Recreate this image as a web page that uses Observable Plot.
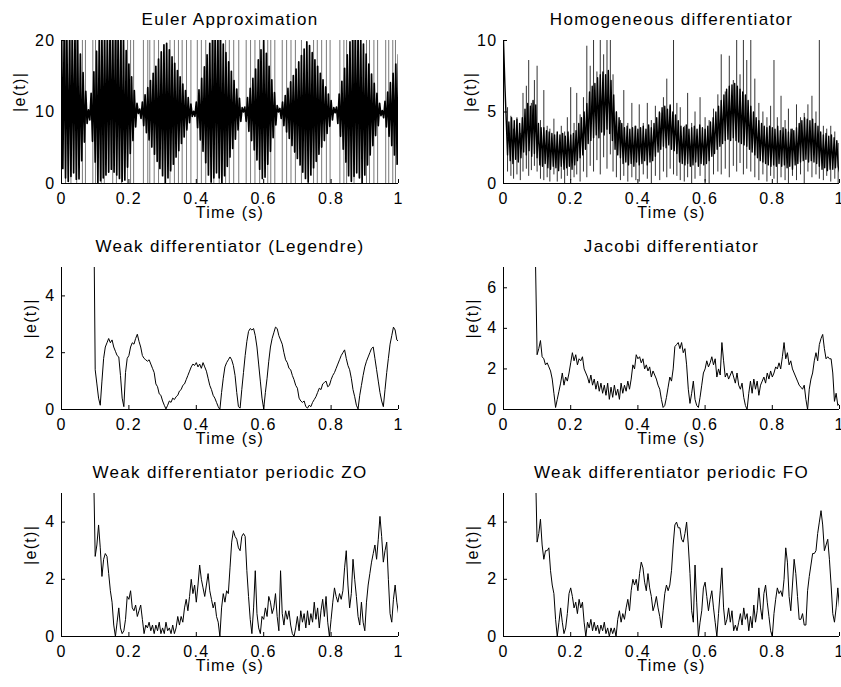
<!DOCTYPE html>
<html><head><meta charset="utf-8">
<script src="https://cdn.jsdelivr.net/npm/d3@7"></script>
<script src="https://cdn.jsdelivr.net/npm/@observablehq/plot@0.6"></script>
<style>
html,body{margin:0;padding:0;background:#fff;overflow:hidden}
#root{position:relative;width:841px;height:687px;background:#fff;overflow:hidden}
#root svg{position:absolute;overflow:visible}
#root svg text{letter-spacing:1.3px}
#root svg text.ttl{letter-spacing:1.8px}
</style></head><body><div id="root"></div>
<script>
// ---- data ----
const xTickValues = [0, 0.2, 0.4, 0.6, 0.8, 1];

// Euler approximation: samples every 0.004 s from t = 0
const eulerStart = 0, eulerStep = 0.004;
const eulerValues = [22.8,2.1,21.5,0.8,20.2,0.3,20.6,1.0,21.3,1.5,
 21.1,0.6,20.2,0.65,18.1,3.2,15.5,5.8,12.9,8.4,
 10.3,8.9,12.6,5.9,15.6,3.0,18.5,0.0,20.2,0.4,
 20.6,0.8,21,1.2,21.4,1.6,21.8,2.0,21.8,1.6,
 21.4,1.2,20.9,0.7,20.5,0.3,20.1,0.5,18.6,2.3,
 16.7,4.2,14.9,6.0,13.0,7.9,11.2,9.8,10.4,9.1,
 11.4,8.1,12.4,7.1,13.4,6.1,14.4,5.1,15.4,4.1,
 16.4,3.1,17.4,2.1,18.4,1.1,19.4,0.1,19.6,0.8,
 18.7,1.8,17.7,2.7,16.8,3.7,15.8,4.6,14.9,5.6,
 13.9,6.5,13.0,7.5,12.0,8.5,11.1,9.4,10.1,9.4,
 11.4,7.8,13.1,6.1,14.7,4.5,16.3,2.9,18.0,1.2,
 19.6,0.2,20.5,0.8,21.2,1.5,21.1,0.8,20.4,0.1,
 19.5,1.1,18.3,2.4,17.0,3.7,15.7,4.9,14.4,6.2,
 13.2,7.5,11.9,8.7,10.6,10,10.7,8.7,12.0,7.3,
 13.3,6.0,14.7,4.7,16.0,3.3,17.3,2.0,18.7,0.7,
 20,0.9,18.2,2.7,16.4,4.5,14.5,6.4,12.7,8.2,
 10.9,10,10.5,9.1,11.4,8.1,12.3,7.2,13.3,6.3,
 14.2,5.3,15.1,4.4,16.0,3.5,17.0,2.6,17.9,1.6,
 18.8,0.7,19.8,0.2,19.3,1.2,18.3,2.2,17.3,3.1,
 16.4,4.1,15.4,5.1,14.5,6.0,13.5,7.0,12.5,8.0,
 11.6,8.9,10.6,9.9,10.7,8.4,12.5,6.6,14.3,4.8,
 16.1,3.0,18.0,1.1,19.8,0.3,20.6,1.0,21.3,1.5,
 21.2,0.8,20.4,0.1,19.5,1.2,18.1,2.6,16.7,4.0,
 15.3,5.3,14.0,6.7,12.6,8.1,11.2,9.5,10.2,9.2,
 11.5,7.9,12.8,6.6,14.1,5.3,15.4,4.0,16.7,2.7,
 18.0];
// isolated full-height strokes of the Euler trace (times, s)
const eulerSpikeTimes = [0.012,0.028,0.045,0.062,0.071,0.093,0.101,0.118,0.127,0.152,0.163,0.178,
 0.196,0.205,0.214,0.243,0.256,0.262,0.275,0.288,0.322,0.335,0.347,0.358,0.371,0.384,0.403,0.415,
 0.428,0.452,0.468,0.487,0.498,0.511,0.526,0.548,0.561,0.574,0.588,0.612,0.621,0.633,0.655,0.668,
 0.681,0.694,0.712,0.748,0.759,0.772,0.786,0.797,0.826,0.838,0.846,0.868,0.905,0.914,0.927,0.938,
 0.962,0.971,0.983,0.991];

// Homogeneous differentiator: dense core, samples every 0.004 s from t = 0
const homStart = 0, homStep = 0.004;
const homCoreValues = [10,7.0,4.5,2.0,4.3,1.6,4.6,1.4,4.4,1.7,
 4.5,1.5,4.2,1.8,4.6,2.2,5.2,2.0,5.6,2.3,
 5.4,1.9,5.8,2.1,5.5,1.8,4.2,1.3,3.9,1.2,
 3.9,1.4,3.7,1.1,3.6,1.0,3.5,1.2,3.4,1.1,
 3.6,0.9,3.4,1.2,3.5,1.0,3.3,1.1,3.6,1.2,
 3.4,1.0,3.5,1.3,3.7,1.6,4.2,1.8,4.6,2.0,
 5.0,2.4,5.6,2.8,6.4,3.0,6.8,3.2,7.0,3.4,
 7.4,3.2,7.6,3.6,7.8,3.4,7.6,3.8,7.9,3.5,
 7.2,3.0,6.2,2.4,5.0,2.0,4.6,1.8,4.2,1.4,
 3.9,1.5,4.0,1.3,3.8,1.4,3.9,1.2,4.0,1.5,
 3.8,1.3,3.9,1.4,4.0,1.6,3.8,1.3,4.1,1.5,
 3.9,1.6,4.2,1.9,4.6,2.2,5.0,2.4,5.3,2.6,
 5.4,2.5,5.2,2.7,5.5,2.4,5.0,2.3,4.8,2.1,
 4.4,1.5,4.0,1.4,3.9,1.3,4.1,1.4,3.8,1.2,
 3.9,1.3,4.0,1.5,3.8,1.2,4.1,1.4,3.9,1.3,
 3.8,1.4,4.0,1.6,4.3,1.9,4.6,2.1,5.0,2.4,
 5.4,2.6,5.8,2.8,6.2,3.0,6.6,3.1,6.8,3.0,
 6.9,3.2,7.0,3.0,6.8,2.9,6.6,2.8,6.4,2.7,
 6.2,2.6,5.8,2.4,5.4,2.2,5.0,2.0,4.6,1.8,
 4.4,1.6,4.2,1.5,4.0,1.4,3.9,1.3,4.0,1.2,
 3.9,1.3,3.8,1.2,4.0,1.4,3.7,1.2,3.9,1.3,
 3.8,1.1,3.6,1.2,3.8,1.0,3.7,1.3,3.9,1.4,
 4.2,1.5,4.4,1.6,4.6,1.7,4.5,1.5,4.4,1.6,
 4.5,1.5,4.2,1.4,4.0,1.2,3.6,1.0,3.4,1.1,
 3.5,0.9,3.3,1.0,3.4,1.0,3.2,1.1,3.0,1.2,
 0.8];
// Homogeneous differentiator: isolated excursions (time, low end, high end)
const homSpikeT = [0.012,0.022,0.03,0.04,0.05,0.058,0.068,0.075,0.083,0.092,0.1,0.11,0.12,0.13,0.138,
 0.15,0.16,0.172,0.182,0.19,0.2,0.21,0.218,0.228,0.238,0.248,0.258,0.268,0.278,0.288,0.298,0.308,
 0.318,0.326,0.336,0.348,0.358,0.37,0.382,0.394,0.404,0.416,0.428,0.44,0.452,0.465,0.476,0.486,
 0.496,0.506,0.516,0.526,0.538,0.548,0.56,0.57,0.585,0.6,0.612,0.625,0.638,0.648,0.66,0.672,
 0.684,0.694,0.704,0.714,0.724,0.736,0.748,0.76,0.772,0.784,0.795,0.805,0.815,0.826,0.838,0.848,
 0.86,0.872,0.884,0.895,0.906,0.918,0.93,0.94,0.952,0.962,0.974,0.986,0.996];
const homSpikeLo = [0.8,0.5,0.3,0.6,0.2,0.8,1.0,0.5,0.9,1.2,0.8,0.3,0.2,0.4,0.1,
 0.6,0.1,0.3,0.0,0.5,0.2,0.4,0.6,0.1,0.8,0.4,1.2,0.8,1.6,0.6,1.8,1.0,
 2.0,0.8,0.4,0.2,0.5,0.1,0.4,0.2,0.1,0.6,0.3,0.0,0.5,0.2,0.8,0.4,
 1.0,0.6,0.5,0.2,0.1,0.4,0.0,0.3,0.5,0.1,0.0,0.6,0.8,0.6,1.0,0.4,
 1.2,0.8,1.4,0.6,1.0,0.8,0.4,0.2,0.6,0.1,0.5,0.3,0.0,0.4,0.2,0.0,
 0.5,0.2,0.6,0.0,0.8,0.4,0.6,0.3,0.2,0.5,0.1,0.3,0.0];
const homSpikeHi = [5.3,4.7,3.8,4.6,3.5,6.3,6.8,8.6,5.6,7.2,8.2,4.4,6.5,4.0,3.8,
 4.5,3.4,4.0,3.6,4.6,6.7,4.2,6.3,4.8,6.0,9.6,8.2,10,7.8,10,9.0,10,
 10,7.6,5.0,4.4,6.5,4.2,5.6,4.0,5.5,4.2,5.6,4.4,5.4,4.9,6.0,7.3,
 5.4,10,5.6,5.3,4.0,6.3,4.2,5.0,6.0,4.6,4.4,5.2,6.2,9.0,6.4,8.9,
 7.2,10,7.6,10,8.6,10,7.3,5.6,5.0,4.6,5.4,8.6,4.6,6.1,4.4,5.2,
 3.8,5.5,4.6,4.9,5.5,6.1,5.0,10,4.0,3.8,4.0,3.6,2.8];

// The four weak / Jacobi differentiators: samples every 0.005 s from t = 0.095
const lateStart = 0.095, lateStep = 0.005;
const legendreValues = [8,1.4,0.9,0.4,0.15,1.0,1.8,2.2,2.35,2.5,
 2.35,2.45,2.2,2.05,1.9,1.85,1.2,0.4,0.1,1.3,
 1.8,1.9,2.2,2.35,2.3,2.5,2.65,2.4,2.2,1.9,
 1.8,1.75,1.7,1.75,1.6,1.45,1.3,0.9,0.8,0.55,
 0.5,0.3,0.15,0.02,0.15,0.3,0.25,0.4,0.35,0.45,
 0.5,0.65,0.7,0.85,0.9,1.05,1.2,1.35,1.5,1.6,
 1.55,1.65,1.5,1.6,1.45,1.65,1.5,1.35,1.1,0.85,
 0.7,0.5,0.4,0.25,0.1,0.0,0.6,1.1,1.5,1.65,
 1.75,1.85,1.75,1.55,1.2,0.6,0.1,0.05,0.7,1.3,
 1.9,2.4,2.75,2.85,2.8,2.85,2.6,2.2,1.6,1.0,
 0.4,0.02,0.6,1.1,1.7,2.2,2.5,2.7,2.9,2.85,
 2.6,2.45,2.3,2.0,1.75,1.65,1.45,1.4,1.2,1.05,
 0.85,0.75,0.4,0.3,0.25,0.3,0.1,0.05,0.15,0.1,
 0.25,0.35,0.45,0.6,0.75,0.7,0.9,0.95,1.0,0.8,
 0.85,1.05,1.2,1.3,1.45,1.6,1.75,1.9,2.0,2.1,
 1.8,1.55,1.4,1.1,0.7,0.45,0.15,0.02,0.5,0.85,
 1.2,1.5,1.7,1.85,2.0,2.15,2.2,1.8,1.4,1.0,
 0.6,0.3,0.1,0.7,1.3,1.8,2.3,2.6,2.9,2.8,
 2.45,2.4];
const jacobiValues = [7.5,2.7,3.0,3.4,2.6,2.5,2.2,2.3,2.1,1.9,
 1.5,0.8,0.1,0.5,0.9,1.3,1.8,1.2,1.6,1.4,
 1.8,2.3,2.8,2.4,2.7,2.2,2.5,2.4,2.6,2.0,
 1.8,1.6,1.3,1.7,1.2,1.5,1.0,1.4,0.9,1.3,
 0.8,1.2,0.7,1.3,0.5,1.1,0.6,1.2,0.7,1.0,
 0.5,1.3,0.8,1.2,0.9,1.4,1.0,1.5,2.2,2.0,
 2.7,2.5,2.6,2.3,2.5,2.0,2.2,1.9,2.1,1.6,
 1.9,1.7,1.5,1.2,1.0,0.5,0.1,0.2,0.6,1.1,
 1.6,1.4,2.0,3.1,3.2,3.3,3.0,3.3,2.8,3.0,
 2.2,1.0,0.3,0.8,1.4,0.5,0.2,0.1,0.6,1.2,
 1.8,2.0,2.4,2.1,2.3,2.6,2.2,2.5,1.6,2.0,
 1.7,3.3,2.4,1.6,1.8,1.5,1.7,1.9,1.6,1.3,
 1.8,1.2,1.0,1.3,0.6,0.2,0.0,0.8,1.4,0.8,
 1.5,1.0,1.4,0.7,1.2,1.4,1.6,1.3,1.8,1.5,
 1.9,1.6,1.8,2.1,2.0,2.3,2.0,2.6,3.3,2.5,
 2.8,2.2,2.4,2.0,1.8,1.6,1.4,1.2,1.1,1.0,
 1.2,0.5,0.0,1.0,1.5,1.8,2.4,2.8,2.4,3.2,
 3.5,3.7,3.0,2.5,2.6,2.5,2.5,1.8,0.4,0.8,
 0.2,0.3];
const periodicZOValues = [6,2.8,3.2,3.9,3.1,2.1,2.7,2.9,2.8,2.2,
 1.6,1.2,0.4,0.0,0.5,1.0,0.3,0.1,0.2,0.6,
 1.4,1.3,1.6,1.0,0.9,1.1,0.7,0.9,1.1,0.6,
 0.1,0.4,0.3,0.5,0.2,0.4,0.1,0.4,0.2,0.5,
 0.1,0.3,0.1,0.5,0.2,0.3,0.1,0.4,0.1,0.3,
 0.7,0.4,0.7,0.5,1.0,1.3,0.9,1.4,2.0,1.5,
 1.8,1.2,1.8,2.5,2.0,1.7,1.4,1.8,2.2,1.6,
 1.3,1.0,1.2,0.7,0.5,0.0,1.0,1.5,1.2,1.6,
 1.5,2.4,3.3,3.7,3.5,3.4,3.1,3.0,3.5,3.6,
 3.5,2.3,1.4,0.6,0.1,1.0,2.3,0.8,0.3,0.1,
 0.7,0.6,1.0,0.7,1.4,1.2,0.8,1.0,1.5,0.7,
 0.2,2.3,0.8,0.4,0.9,0.6,0.9,0.4,0.1,0.0,
 0.3,0.7,0.2,0.9,0.5,0.8,0.3,0.9,0.4,0.8,
 0.5,1.2,0.6,1.0,0.3,0.9,1.3,0.7,1.4,0.5,
 0.0,0.6,1.2,1.7,1.4,1.2,1.5,1.3,1.6,2.4,
 3.0,1.8,1.0,1.5,2.7,2.0,1.4,0.7,0.4,1.2,
 0.5,0.2,1.2,1.8,2.2,2.6,2.9,3.2,2.7,3.4,
 4.2,3.5,2.6,3.0,3.3,2.0,0.8,0.5,1.3,1.8,
 1.2,0.8];
const periodicFOValues = [6,3.3,3.6,4.1,3.2,2.7,3.0,3.0,3.1,2.3,
 1.8,1.5,0.6,0.0,0.5,1.0,0.5,0.1,0.3,0.8,
 1.5,1.7,1.4,1.0,1.2,0.8,1.3,1.0,1.2,0.5,
 0.0,0.5,0.3,0.6,0.2,0.5,0.2,0.4,0.1,0.4,
 0.2,0.5,0.1,0.3,0.0,0.3,0.1,0.3,0.0,0.6,
 0.9,0.5,0.8,0.6,1.0,1.3,0.9,1.6,2.0,1.8,
 2.0,1.6,2.2,2.6,2.4,1.9,1.6,2.2,1.7,1.4,
 0.9,1.1,1.4,1.0,0.7,0.3,0.9,1.5,1.8,1.6,
 1.8,2.3,3.2,3.9,4.0,3.8,3.8,3.4,3.3,3.6,
 4.0,3.2,2.2,0.9,0.5,2.5,1.2,0.0,0.5,0.9,
 1.7,1.9,1.4,0.9,1.3,1.6,1.0,0.5,0.0,0.8,
 1.6,2.4,1.0,0.4,0.6,1.0,0.5,0.9,0.2,0.4,
 0.2,0.5,0.8,0.4,1.0,0.6,0.8,0.2,0.7,0.3,
 1.1,0.5,0.9,1.7,1.0,0.6,1.5,1.8,1.2,0.7,
 0.2,0.0,0.8,1.3,1.7,1.5,1.6,1.4,2.0,3.1,
 2.6,1.4,0.9,1.8,2.7,2.2,1.4,0.6,0.6,0.8,
 0.4,0.4,1.6,2.1,2.5,2.9,2.9,3.0,3.6,4.0,
 4.4,3.9,3.0,3.2,3.4,2.7,1.8,0.8,0.5,1.0,
 1.7,1.0];

const titles = ["Euler Approximation", "Homogeneous differentiator", "Weak differentiator (Legendre)",
  "Jacobi differentiator", "Weak differentiator periodic ZO", "Weak differentiator periodic FO"];
const yMaxes = [20, 10, 5, 7, 5, 5];
const yTickSets = [[0, 10, 20], [0, 5, 10], [0, 2, 4], [0, 2, 4, 6], [0, 2, 4], [0, 2, 4]];
const xLabel = "Time (s)";
const yLabel = "|e(t)|";

// ---- layout ----
const FONT = "'Liberation Sans', Arial, Helvetica, sans-serif";
const cols = [
  {left: 0, width: 420, ml: 61, mr: 22},
  {left: 420, width: 421, ml: 83, mr: 2}
];
const rows = [
  {top: 0, height: 228, mt: 40, mb: 45},
  {top: 228, height: 227, mt: 39, mb: 46},
  {top: 455, height: 232, mt: 38, mb: 51}
];
const ylabelDx = [-42, -33, -31, -31, -31, -31];

const series = [
  {values: eulerValues, start: eulerStart, step: eulerStep, width: 1.7},
  {values: homCoreValues, start: homStart, step: homStep, width: 1.4},
  {values: legendreValues, start: lateStart, step: lateStep, width: 1},
  {values: jacobiValues, start: lateStart, step: lateStep, width: 1},
  {values: periodicZOValues, start: lateStart, step: lateStep, width: 1},
  {values: periodicFOValues, start: lateStart, step: lateStep, width: 1}
];

const textStyle = {fontSize: 16, fill: "black"};

const root = document.getElementById("root");
series.forEach((s, k) => {
  const c = cols[k % 2], r = rows[Math.floor(k / 2)];
  const data = s.values.map((v, i) => ({t: s.start + i * s.step, v}));
  const fw = c.width - c.ml - c.mr, fh = r.height - r.mt - r.mb;
  const yMax = yMaxes[k];
  const tickLenY = yMax * 4 / fh, tickLenX = 4 / fw;
  const extra = [];
  if (k === 0) {
    extra.push(Plot.ruleX(eulerSpikeTimes, {x: d => d, y1: 0, y2: yMax, stroke: "#7a7a7a", strokeWidth: 1}));
  }
  if (k === 1) {
    extra.push(Plot.ruleX(homSpikeT.map((t, i) => ({t, lo: homSpikeLo[i], hi: homSpikeHi[i]})),
      {x: "t", y1: "lo", y2: "hi", stroke: "#333", strokeWidth: 1, clip: true}));
  }
  const svg = Plot.plot({
    width: c.width, height: r.height,
    marginLeft: c.ml, marginRight: c.mr, marginTop: r.mt, marginBottom: r.mb,
    x: {domain: [0, 1], axis: null},
    y: {domain: [0, yMax], axis: null},
    style: {background: "transparent", fontFamily: FONT, color: "black", overflow: "visible"},
    marks: [
      ...extra,
      Plot.line(data, {x: "t", y: "v", stroke: "black", strokeWidth: s.width, clip: true}),
      Plot.ruleY([0], {stroke: "black", strokeWidth: 1}),
      Plot.ruleX([0], {stroke: "black", strokeWidth: 1}),
      Plot.ruleX(xTickValues, {x: d => d, y1: 0, y2: tickLenY, stroke: "black"}),
      Plot.ruleY(yTickSets[k], {y: d => d, x1: 0, x2: tickLenX, stroke: "black"}),
      Plot.text(xTickValues, {x: d => d, frameAnchor: "bottom", dy: 20, lineAnchor: "bottom", text: d => String(d), ...textStyle}),
      Plot.text(yTickSets[k], {y: d => d, frameAnchor: "left", dx: -6, textAnchor: "end", text: d => String(d), ...textStyle}),
      Plot.text([titles[k]], {frameAnchor: "top", dy: -16, lineAnchor: "bottom", text: d => d, ...textStyle, fontSize: 17, className: "ttl"}),
      Plot.text([xLabel], {frameAnchor: "bottom", dy: 34, lineAnchor: "bottom", text: d => d, ...textStyle}),
      Plot.text([yLabel], {frameAnchor: "left", dx: ylabelDx[k], rotate: -90, text: d => d, ...textStyle})
    ]
  });
  svg.style.left = c.left + "px";
  svg.style.top = r.top + "px";
  root.appendChild(svg);
});
</script>
</body></html>
